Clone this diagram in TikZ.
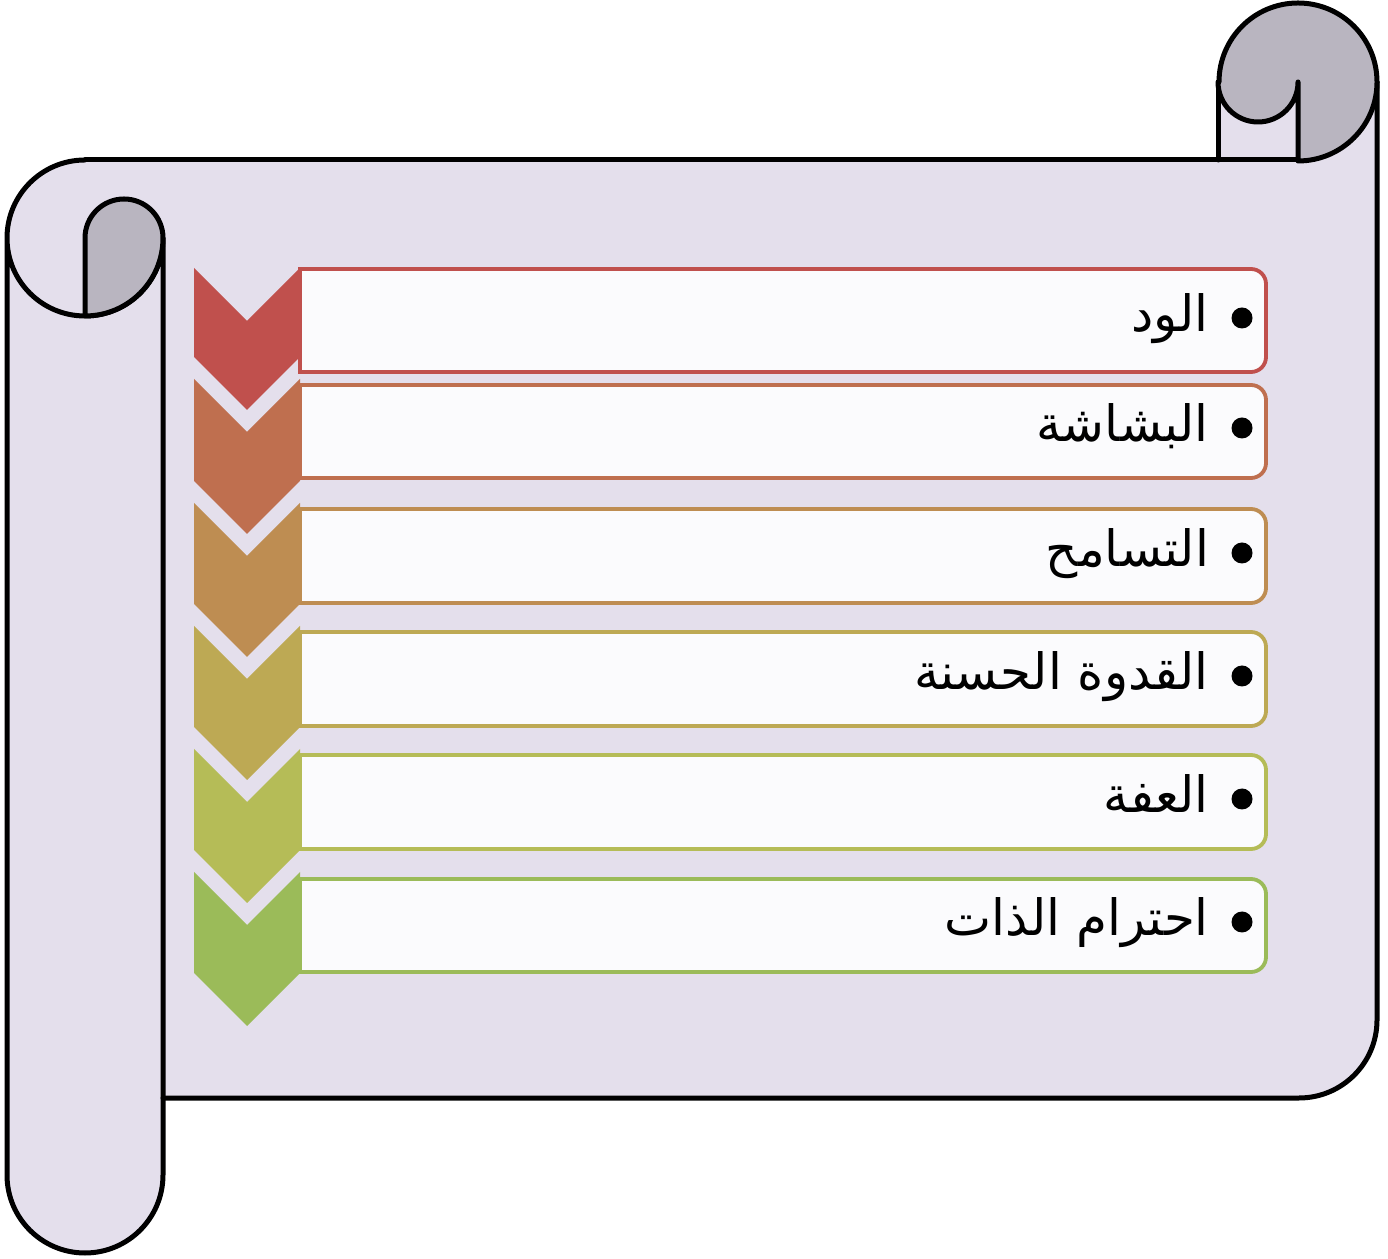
\documentclass[tikz,border=0pt]{standalone}
\usepackage{fontspec}
\TeXXeTstate=1
\newfontfamily\arabicfont[Script=Arabic]{DejaVu Sans}
\definecolor{bodyfill}{RGB}{228,223,236}
\definecolor{rollgray}{RGB}{185,181,192}
\definecolor{boxfill}{RGB}{251,251,253}
\definecolor{cA}{RGB}{192,80,77}
\definecolor{cB}{RGB}{191,111,79}
\definecolor{cC}{RGB}{190,141,82}
\definecolor{cD}{RGB}{189,169,84}
\definecolor{cE}{RGB}{181,188,87}
\definecolor{cF}{RGB}{155,187,89}
\begin{document}
\begin{tikzpicture}[x=1pt,y=1pt,
  outline/.style={draw=black,line width=5pt,line join=round,line cap=round},
  itembox/.style={line width=3.8pt,fill=boxfill},
  label/.style={anchor=base east,inner sep=0pt,font=\arabicfont\fontsize{50}{56}\selectfont},
  dot/.style={circle,fill=black,inner sep=0pt,minimum size=21pt}]
\useasboundingbox (0,0) rectangle (1388,1258);
% scroll body fill
\fill[bodyfill] (85,1098) -- (1298,1098) -- (1298,1176) -- (1377,1176) -- (1377,238)
  arc[start angle=0,end angle=-90,radius=78] -- (163,160) -- (163,83)
  arc[start angle=0,end angle=-180,radius=78] -- (7,1020)
  arc[start angle=180,end angle=90,radius=78] -- cycle;
\fill[bodyfill] (1218,1096) rectangle (1300,1178);
% outlines
\draw[outline] (85,1098) -- (1298,1098);
\draw[outline] (1218,1176) -- (1218,1098);
\draw[outline] (1377,1176) -- (1377,238) arc[start angle=0,end angle=-90,radius=78] -- (163,160);
\draw[outline] (85,1098) arc[start angle=90,end angle=360,radius=78] -- (163,83)
  arc[start angle=0,end angle=-180,radius=78] -- (7,1020);
% rolled ends
\filldraw[outline,fill=rollgray] (85,942) -- (85,1020) arc[start angle=180,end angle=0,radius=39]
  arc[start angle=0,end angle=-90,radius=78] -- cycle;
\filldraw[outline,fill=rollgray] (1219,1176) arc[start angle=180,end angle=-90,radius=79]
  -- (1298,1176) arc[start angle=0,end angle=-180,radius=40] -- cycle;
% item boxes
\foreach \n/\t/\b/\c in {1/989/886/cA,2/873/780/cB,3/749/655/cC,4/626/532/cD,5/503/409/cE,6/379/286/cF}{
  \draw[itembox,draw=\c] (300,\b) -- (300,\t) -- (1251,\t) arc[start angle=90,end angle=0,radius=15]
    -- (1266,\b+15) arc[start angle=0,end angle=-90,radius=15] -- cycle;
}
% chevrons
\foreach \t/\tn/\b/\bn/\c in {990/937/901/848/cA,879/826/777/724/cB,755/702/654/601/cC,632/579/531/478/cD,509/456/408/355/cE,386/333/285/232/cF}{
  \fill[\c] (194,\t) -- (247,\tn) -- (300,\t) -- (300,\b) -- (247,\bn) -- (194,\b) -- cycle;
}
% texts
\node[dot] (d1) at (1242,940) {};
\node[label] (t1) at (1209,926) {\beginR الود\endR};
\node[dot] (d2) at (1242,830) {};
\node[label] (t2) at (1209,816) {\beginR البشاشة\endR};
\node[dot] (d3) at (1242,705) {};
\node[label] (t3) at (1209,691) {\beginR التسامح\endR};
\node[dot] (d4) at (1242,582) {};
\node[label] (t4) at (1209,568) {\beginR القدوة الحسنة\endR};
\node[dot] (d5) at (1242,459) {};
\node[label] (t5) at (1209,445) {\beginR العفة\endR};
\node[dot] (d6) at (1242,336) {};
\node[label] (t6) at (1209,322) {\beginR احترام الذات\endR};
\end{tikzpicture}
\end{document}
